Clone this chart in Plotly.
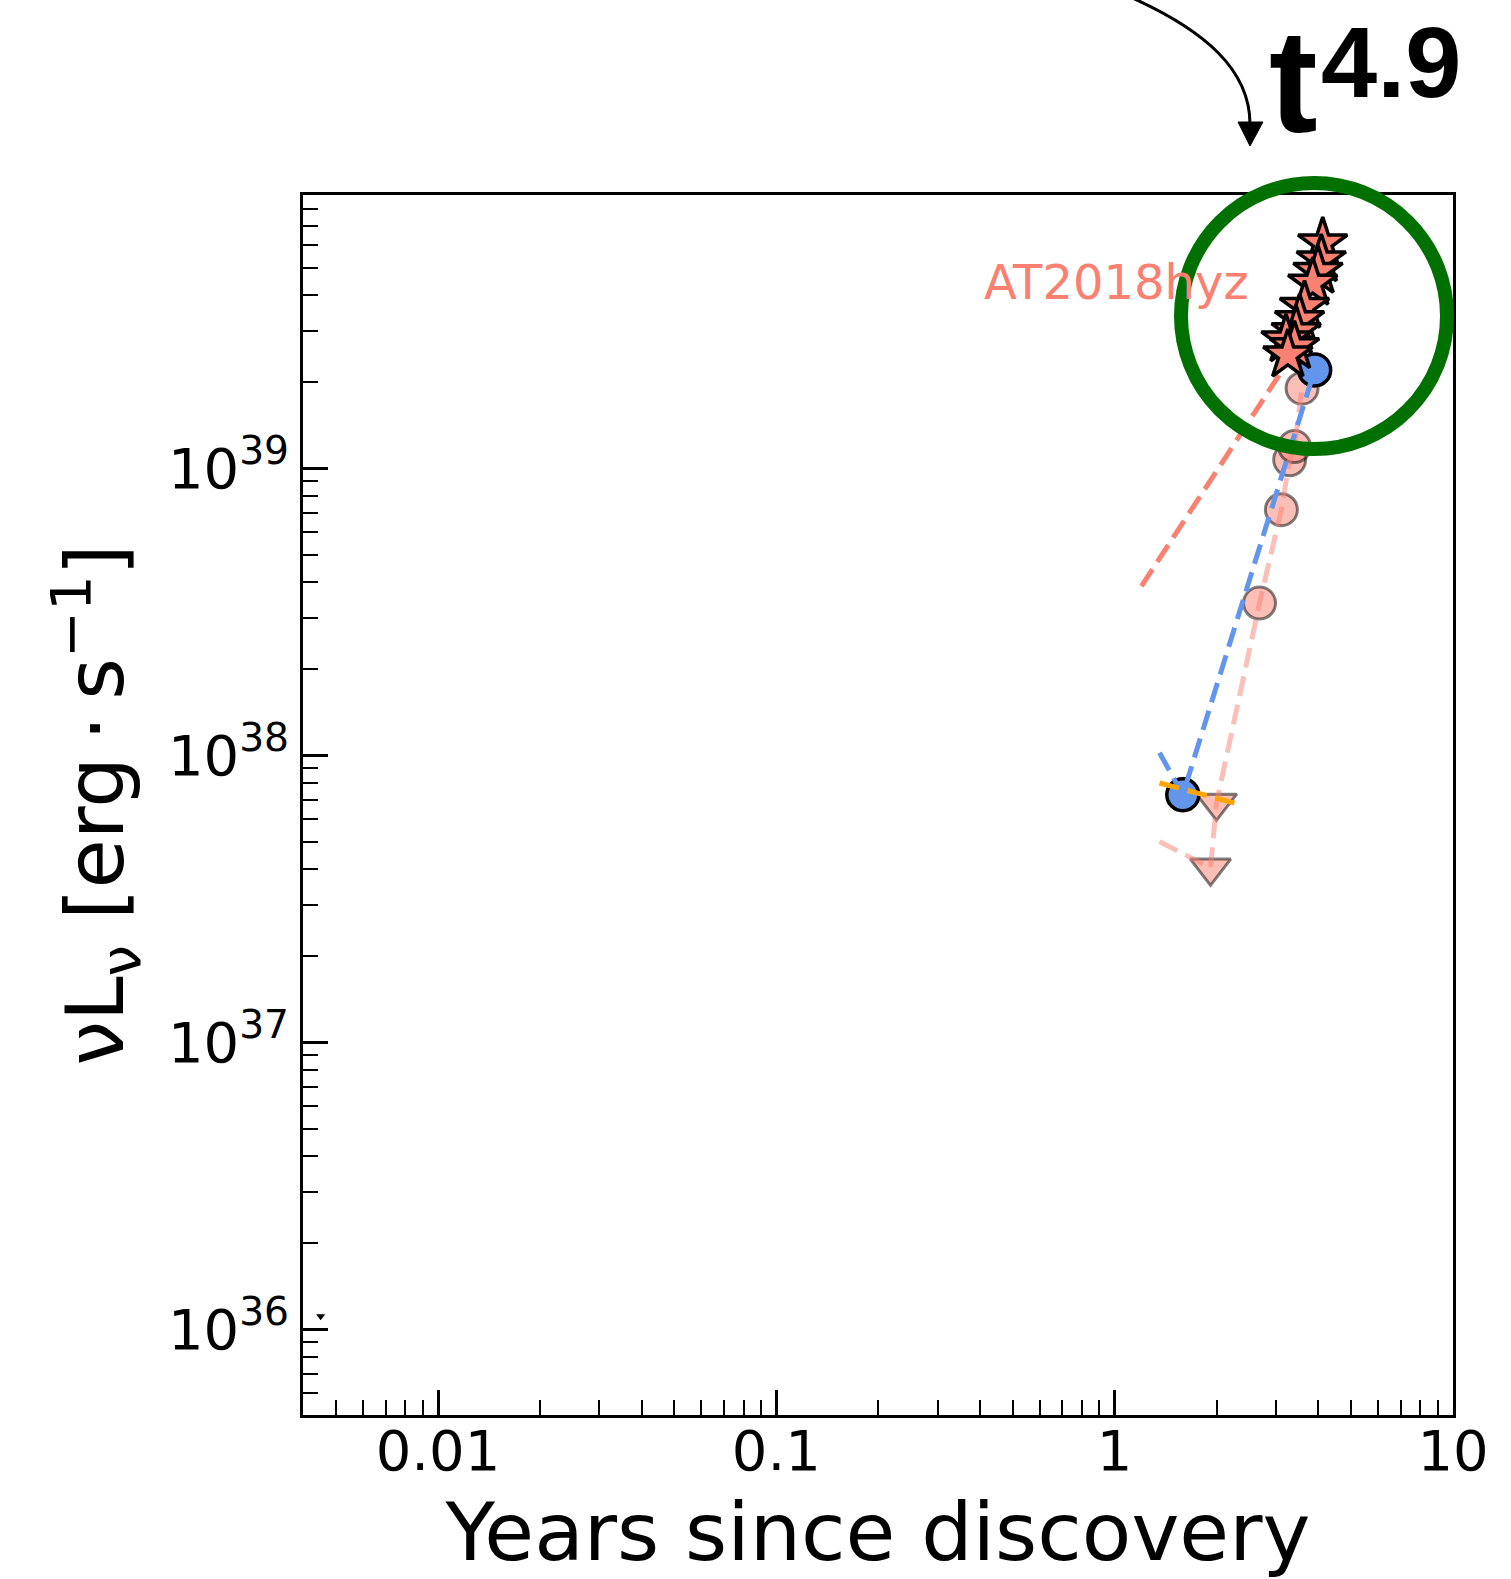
import plotly.graph_objects as go

# ---------------- data ----------------
star_x = [4.12, 4.08, 3.99, 3.85, 3.64, 3.52, 3.44, 3.21, 3.40, 3.25]
star_y = [6.09e39, 5.32e39, 4.85e39, 4.41e39, 3.66e39, 3.29e39, 2.99e39, 2.80e39, 2.65e39, 2.48e39]

blue_x = [1.59, 3.90]
blue_y = [7.28e37, 2.20e39]
blue_line_x = [1.357, 1.59, 3.90]
blue_line_y = [1.02e38, 7.28e37, 2.20e39]

pink_circ_x = [2.68, 3.11, 3.29, 3.40, 3.58]
pink_circ_y = [3.39e38, 7.17e38, 1.07e39, 1.19e39, 1.90e39]
pink_tri_x = [2.00, 1.92]
pink_tri_y = [6.82e37, 4.05e37]
pink_line_x = [1.357, 1.92, 2.00, 2.68, 3.11, 3.29, 3.40, 3.58]
pink_line_y = [5.0e37, 4.05e37, 6.82e37, 3.39e38, 7.17e38, 1.07e39, 1.19e39, 1.90e39]

orange_x = [1.357, 2.26]
orange_y = [8.0e37, 6.81e37]

salmon_line_x = [1.20, 3.11]
salmon_line_y = [3.88e38, 2.17e39]

frag_x = [0.0045]
frag_y = [1.11e36]

x_tickvals = [0.01, 0.1, 1, 10]
x_ticktext = ["0.01", "0.1", "1", "10"]
y_tickvals = [1e36, 1e37, 1e38, 1e39]
y_ticktext = ["10<sup>36</sup>", "10<sup>37</sup>", "10<sup>38</sup>", "10<sup>39</sup>"]

label_text = "AT2018hyz"
slope_main = "t"
slope_exp = "4.9"

# ---------------- styling ----------------
SALMON = "#FA8072"
SALMON_A = "rgba(250,128,114,0.5)"
BLUE = "#6495ED"
ORANGE = "#FFA500"
GREEN = "#007000"
FONT = "DejaVu Sans"
DASH = "20px,9px"
LW = 5

W, H = 1511, 1579
L, R, T, B = 303, 1453, 195, 1415


def px(x):
    return (x - L) / (R - L)


def py(y):
    return (B - y) / (B - T)


fig = go.Figure()

# markers under lines
fig.add_trace(go.Scatter(x=pink_circ_x, y=pink_circ_y, mode="markers",
                         marker=dict(symbol="circle", size=32, color=SALMON_A,
                                     line=dict(color="rgba(0,0,0,0.5)", width=3)),
                         showlegend=False))
fig.add_trace(go.Scatter(x=pink_tri_x, y=pink_tri_y, mode="markers",
                         marker=dict(symbol="triangle-down", size=35, color=SALMON_A,
                                     line=dict(color="rgba(0,0,0,0.5)", width=3)),
                         showlegend=False))
fig.add_trace(go.Scatter(x=blue_x, y=blue_y, mode="markers",
                         marker=dict(symbol="circle", size=32, color=BLUE,
                                     line=dict(color="black", width=3.5)),
                         showlegend=False))
fig.add_trace(go.Scatter(x=frag_x, y=frag_y, mode="markers",
                         marker=dict(symbol="triangle-down", size=8, color="black"),
                         showlegend=False))

# dashed lines
fig.add_trace(go.Scatter(x=pink_line_x, y=pink_line_y, mode="lines",
                         line=dict(color=SALMON_A, width=LW, dash=DASH), showlegend=False))
fig.add_trace(go.Scatter(x=blue_line_x, y=blue_line_y, mode="lines",
                         line=dict(color=BLUE, width=LW, dash=DASH), showlegend=False))
fig.add_trace(go.Scatter(x=orange_x, y=orange_y, mode="lines",
                         line=dict(color=ORANGE, width=LW, dash=DASH), showlegend=False))
fig.add_trace(go.Scatter(x=salmon_line_x, y=salmon_line_y, mode="lines",
                         line=dict(color=SALMON, width=LW, dash=DASH), showlegend=False))

# stars on top
fig.add_trace(go.Scatter(x=star_x, y=star_y, mode="markers",
                         marker=dict(symbol="star", size=37, color=SALMON,
                                     line=dict(color="black", width=3.5)),
                         showlegend=False))

x_minor = [m * 10.0 ** e for e in range(-3, 1) for m in range(2, 10)]
y_minor = [m * 10.0 ** e for e in range(35, 40) for m in range(2, 10)]

fig.update_xaxes(type="log", range=[-2.399, 1.0],
                 showline=True, linewidth=2.5, linecolor="black", mirror=True,
                 ticks="inside", ticklen=25, tickwidth=3, tickcolor="black",
                 tickvals=x_tickvals, ticktext=x_ticktext, ticklabelstandoff=-15,
                 tickfont=dict(family=FONT, size=56, color="black"),
                 minor=dict(tickvals=x_minor, ticks="inside", ticklen=15, tickwidth=2,
                            tickcolor="black", showgrid=False),
                 showgrid=False, zeroline=False,
                 title=dict(text="Years since discovery",
                            font=dict(family=FONT, size=81, color="black"), standoff=24))
fig.update_yaxes(type="log", range=[35.701, 39.952],
                 showline=True, linewidth=2.5, linecolor="black", mirror=True,
                 ticks="inside", ticklen=25, tickwidth=3, tickcolor="black",
                 tickvals=y_tickvals, ticktext=y_ticktext,
                 tickfont=dict(family=FONT, size=56, color="black"),
                 minor=dict(tickvals=y_minor, ticks="inside", ticklen=15, tickwidth=2,
                            tickcolor="black", showgrid=False),
                 showgrid=False, zeroline=False,
                 title=dict(text="νL<sub>ν</sub> [erg\u2009·\u2009s<sup>−1</sup>]",
                            font=dict(family=FONT, size=80, color="black"), standoff=18))

# green circle
cx, cy, rad = 1314, 316, 133
fig.add_shape(type="circle", xref="paper", yref="paper",
              x0=px(cx - rad), x1=px(cx + rad), y0=py(cy + rad), y1=py(cy - rad),
              line=dict(color=GREEN, width=14), layer="above")

# curved arrow
p0, p1, p2, p3 = (1128, -4), (1205, 30), (1250, 70), (1250, 124)
path = "M {} {} C {} {} {} {} {} {}".format(px(p0[0]), py(p0[1]), px(p1[0]), py(p1[1]),
                                            px(p2[0]), py(p2[1]), px(p3[0]), py(p3[1]))
fig.add_shape(type="path", xref="paper", yref="paper", path=path,
              line=dict(color="black", width=3))
head = "M {} {} L {} {} L {} {} Z".format(px(1238), py(122), px(1263), py(122), px(1250), py(146))
fig.add_shape(type="path", xref="paper", yref="paper", path=head,
              fillcolor="black", line=dict(color="black", width=1))

# texts
fig.add_annotation(xref="paper", yref="paper", x=px(982), y=py(281.5), text=label_text,
                   showarrow=False, xanchor="left", yanchor="middle",
                   font=dict(family=FONT, size=48, color=SALMON))
fig.add_annotation(xref="paper", yref="paper", x=px(1293.5), y=py(132 - 0.3465 * 146), text=slope_main,
                   showarrow=False, xanchor="center", yanchor="middle",
                   font=dict(family="Liberation Sans", size=146, color="black", weight="bold"))
fig.add_annotation(xref="paper", yref="paper", x=px(1391), y=py(97 - 0.3465 * 101), text=slope_exp,
                   showarrow=False, xanchor="center", yanchor="middle",
                   font=dict(family="Liberation Sans", size=101, color="black", weight="bold"))

fig.update_layout(width=W, height=H, margin=dict(l=L, r=W - R, t=T, b=H - B, autoexpand=False),
                  plot_bgcolor="white", paper_bgcolor="white",
                  font=dict(family=FONT, color="black"))

fig.write_html("out.html")
